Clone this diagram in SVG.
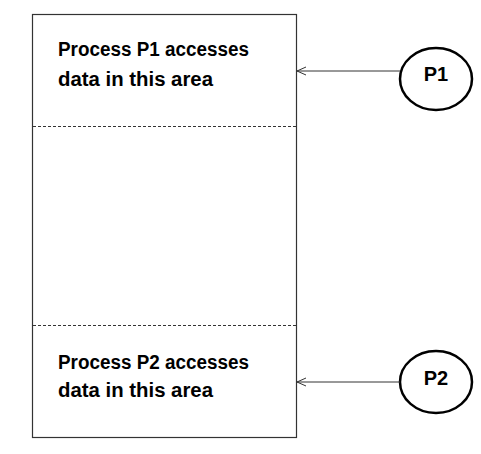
<svg xmlns="http://www.w3.org/2000/svg" width="481" height="454" viewBox="0 0 481 454">
<style>
.box{fill:#fff;stroke:#333;stroke-width:1.2}
.dash{stroke:#333;stroke-width:1;stroke-dasharray:3,2}
.t{font-family:"Liberation Sans",Arial,sans-serif;font-weight:bold;font-size:20px;fill:#000}
.c{fill:#fff;stroke:#000;stroke-width:2.5}
.conn{stroke:#333;stroke-width:1;fill:none}
</style>
<defs>
<marker id="ah" markerWidth="10" markerHeight="10" refX="9" refY="5" orient="auto" markerUnits="userSpaceOnUse">
<path d="M0,1 L9,5 L0,9" fill="none" stroke="#333" stroke-width="1"/>
</marker>
</defs>
<g id="memory">
<rect class="box" x="32.5" y="14.5" width="264" height="423"/>
<line class="dash" x1="33" y1="126.5" x2="296" y2="126.5"/>
<line class="dash" x1="33" y1="325.5" x2="296" y2="325.5"/>
<text class="t" x="58" y="56" textLength="191" lengthAdjust="spacingAndGlyphs">Process P1 accesses</text>
<text class="t" x="58" y="86" textLength="155" lengthAdjust="spacingAndGlyphs">data in this area</text>
<text class="t" x="58" y="369" textLength="191" lengthAdjust="spacingAndGlyphs">Process P2 accesses</text>
<text class="t" x="58" y="397" textLength="155" lengthAdjust="spacingAndGlyphs">data in this area</text>
</g>
<g id="P1">
<ellipse class="c" cx="436" cy="79" rx="36" ry="31"/>
<text class="t" x="436" y="81" text-anchor="middle">P1</text>
</g>
<g id="P2">
<ellipse class="c" cx="436" cy="382" rx="36" ry="31"/>
<text class="t" x="436" y="385" text-anchor="middle">P2</text>
</g>
<g id="connectors">
<line class="conn" x1="400" y1="71" x2="297" y2="71" marker-end="url(#ah)"/>
<line class="conn" x1="400" y1="382" x2="297" y2="382" marker-end="url(#ah)"/>
</g>
</svg>
